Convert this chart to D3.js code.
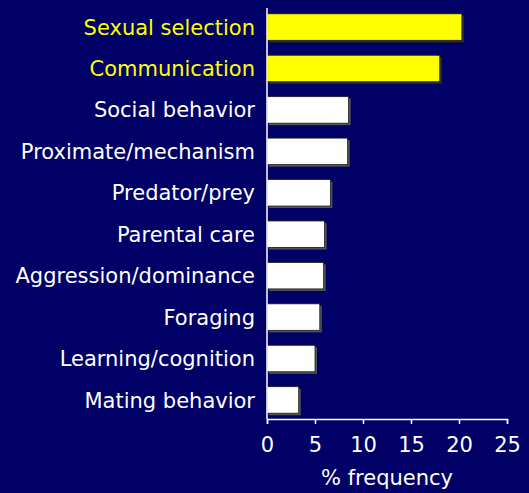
<!DOCTYPE html>
<html>
<head>
<meta charset="utf-8">
<script src="https://cdn.jsdelivr.net/npm/d3@7"></script>
<style>
  html, body { margin: 0; padding: 0; background: #000066; }
  text { font-family: "DejaVu Sans", Verdana, sans-serif; }
</style>
</head>
<body>
<div id="chart"></div>
<script>
var categories = ["Sexual selection", "Communication", "Social behavior", "Proximate/mechanism",
    "Predator/prey", "Parental care", "Aggression/dominance", "Foraging",
    "Learning/cognition", "Mating behavior"];
var frequency = [20.3, 18.0, 8.5, 8.4, 6.6, 6.0, 5.9, 5.5, 5.0, 3.3];
var highlighted = ["Sexual selection", "Communication"];
var xTicks = [0, 5, 10, 15, 20, 25];

var width = 529, height = 493;
var margin = { top: 8, right: 22, bottom: 74, left: 267 };

var svg = d3.select("#chart")
  .append("svg")
    .attr("width", width)
    .attr("height", height)
    .style("display", "block")
    .style("background", "#000066");

var x = d3.scaleLinear()
    .domain([0, 25])
    .range([margin.left, width - margin.right]);

var y = d3.scaleBand()
    .domain(categories)
    .range([margin.top, height - margin.bottom])
    .paddingInner(0.36)
    .paddingOuter(0.14);

var data = categories.map(function(c, i) { return [c, frequency[i]]; });

// shadow under each bar
svg.append("g")
    .selectAll("rect")
    .data(data)
    .enter()
    .append("rect")
      .attr("x", x(0) + 2)
      .attr("y", function(d) { return y(d[0]) + 2; })
      .attr("width", function(d) { return x(d[1]) - x(0); })
      .attr("height", y.bandwidth())
      .style("fill", function(d) { return highlighted.indexOf(d[0]) >= 0 ? "#333300" : "#555555"; });

svg.append("g")
    .selectAll("rect")
    .data(data)
    .enter()
    .append("rect")
      .attr("x", x(0))
      .attr("y", function(d) { return y(d[0]); })
      .attr("width", function(d) { return x(d[1]) - x(0); })
      .attr("height", y.bandwidth())
      .style("fill", function(d) { return highlighted.indexOf(d[0]) >= 0 ? "#ffff00" : "#ffffff"; })
      .style("stroke", "#1a1a1a")
      .style("stroke-width", 0.8);

// category labels
svg.append("g")
    .selectAll("text")
    .data(data)
    .enter()
    .append("text")
      .attr("x", 255)
      .attr("y", function(d) { return y(d[0]) + y.bandwidth() / 2; })
      .attr("dy", "0.36em")
      .attr("text-anchor", "end")
      .style("font-size", "21px")
      .style("fill", function(d) { return highlighted.indexOf(d[0]) >= 0 ? "#ffff00" : "#ffffff"; })
      .text(function(d) { return d[0]; });

// axes
var axisY = height - margin.bottom;

svg.append("line")
    .attr("x1", x(0)).attr("x2", x(0))
    .attr("y1", margin.top).attr("y2", axisY)
    .style("stroke", "#ffffff").style("stroke-width", 1.5);

var xAxis = svg.append("g")
    .attr("transform", "translate(0," + axisY + ")")
    .call(d3.axisBottom(x).tickValues(xTicks).tickSize(5).tickPadding(13));

xAxis.select(".domain").style("stroke", "#ffffff").style("stroke-width", 1.5);
xAxis.selectAll(".tick line").style("stroke", "#ffffff").style("stroke-width", 1.5);
xAxis.selectAll(".tick text")
    .style("fill", "#ffffff")
    .style("font-size", "21px")
    .style("font-family", "DejaVu Sans, Verdana, sans-serif");

svg.append("text")
    .attr("x", (x(0) + x(25)) / 2)
    .attr("y", 485)
    .attr("text-anchor", "middle")
    .style("font-size", "21px")
    .style("fill", "#ffffff")
    .text("% frequency");
</script>
</body>
</html>
